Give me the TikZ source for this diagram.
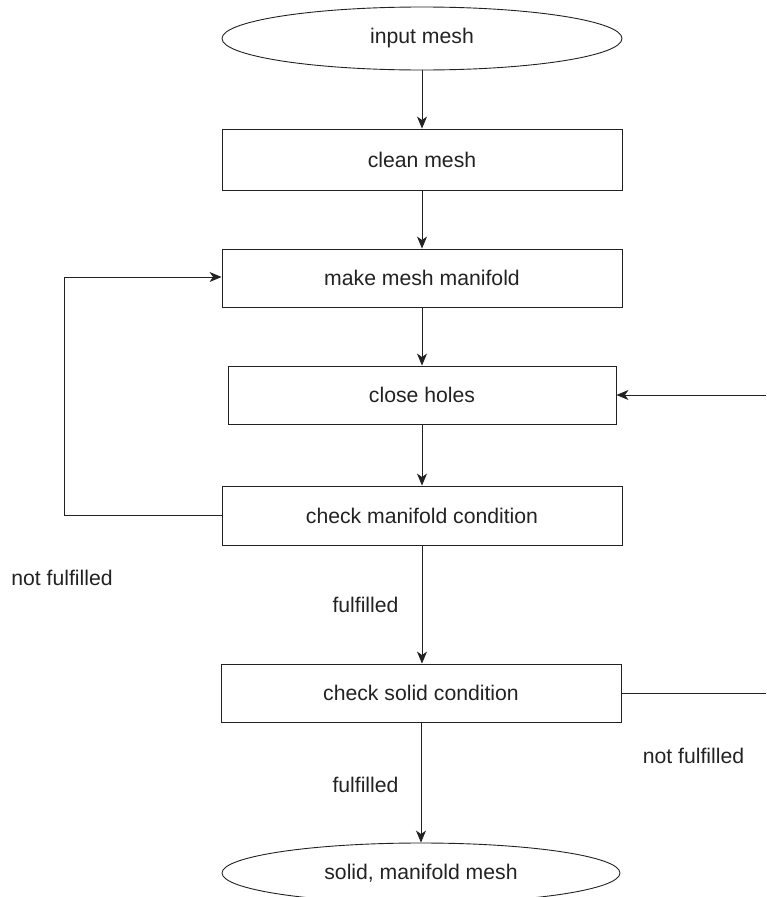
\documentclass[tikz,border=0pt]{standalone}
\usepackage{fontspec}
\setmainfont{Liberation Sans}
\usetikzlibrary{shapes.geometric,arrows.meta}
\definecolor{ink}{HTML}{222222}
\tikzset{
  stepbox/.style={draw=ink, line width=0.9pt, rectangle, inner sep=0pt, minimum width=400pt, minimum height=58pt, font=\fontsize{21.2}{25}\selectfont, text=ink},
  termin/.style={draw=ink, line width=0.9pt, ellipse, inner sep=0pt, minimum width=400pt, minimum height=63pt, font=\fontsize{21.2}{25}\selectfont, text=ink},
  lbl/.style={inner sep=0pt, font=\fontsize{21.2}{25}\selectfont, text=ink},
  conn/.style={draw=ink, line width=0.9pt},
  arr/.style={conn, -{Stealth[length=12pt,width=10pt,inset=3.5pt]}}
}
\begin{document}
\begin{tikzpicture}[x=1pt,y=-1pt]
\clip (0,0) rectangle (766,897);
\useasboundingbox (0,0) rectangle (766,897);
\node[termin] (in) at (422,38.5) {input mesh};
\node[stepbox, minimum height=61pt] (clean) at (422,159.5) {clean mesh};
\node[stepbox] (make) at (422,278) {make mesh manifold};
\node[stepbox, minimum width=388pt] (close) at (422,395) {close holes};
\node[stepbox, minimum height=59pt] (chkm) at (422,515.5) {check manifold condition};
\node[stepbox] (chks) at (421,693) {check solid condition};
\node[termin, minimum width=398pt, minimum height=60pt] (out) at (421,873) {solid, manifold mesh};
\coordinate (lb) at (64,515);
\coordinate (lt) at (64,277);
\coordinate (rt) at (766,395);
\coordinate (rb) at (766,693);
\draw[arr] (in.south) -- (clean.north);
\draw[arr] (clean.south) -- (make.north);
\draw[arr] (make.south) -- (close.north);
\draw[arr] (close.south) -- (chkm.north);
\draw[arr] (chkm.south) -- (chkm.south |- chks.north);
\draw[arr] (chks.south -| out.north) -- (out.north);
\draw[arr] (chkm.west |- lb) -- (lb) -- (lt) -- (make.west |- lt);
\draw[arr] (rt) -- (close.east |- rt);
\draw[conn] (chks.east |- rb) -- (rb);
\node[lbl] (nf1) at (62,577.5) {not fulfilled};
\node[lbl] (f1) at (365.5,605) {fulfilled};
\node[lbl] (f2) at (365.5,785) {fulfilled};
\node[lbl] (nf2) at (693.5,756) {not fulfilled};
\end{tikzpicture}
\end{document}
